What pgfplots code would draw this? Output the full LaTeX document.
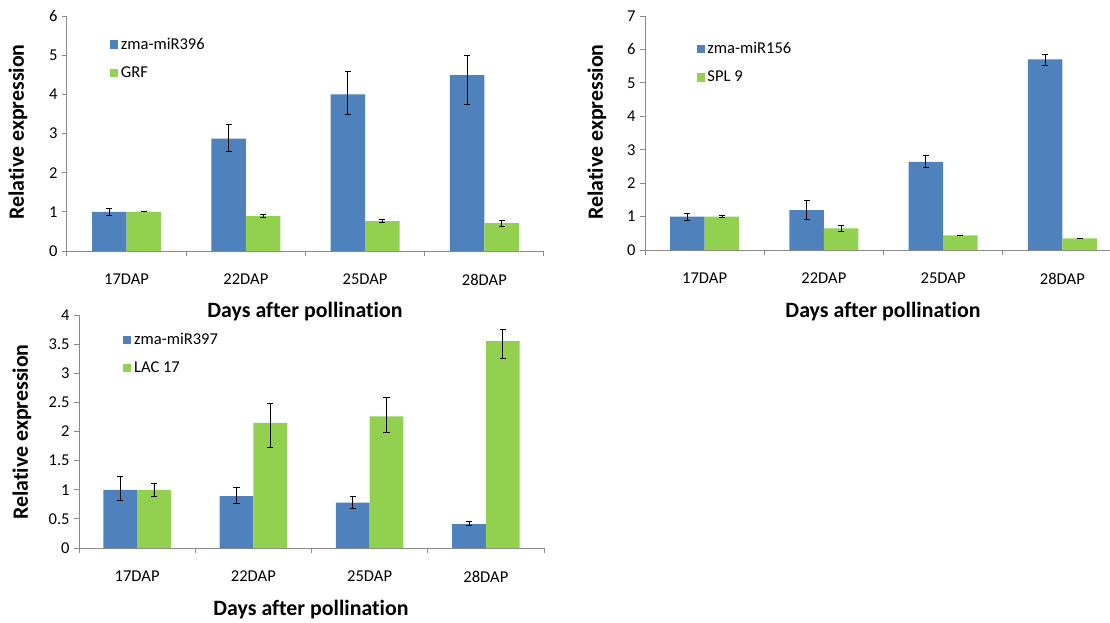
\documentclass[border=0pt]{standalone}
\usepackage{pgfplots}
\pgfplotsset{compat=1.18}
\usepackage{pgfplotstable}
\usepackage{fontspec}
\setmainfont{Carlito}[Ligatures={NoCommon}]
\definecolor{xblue}{HTML}{4F81BD}
\definecolor{xgreen}{HTML}{92D050}
\definecolor{axgray}{HTML}{8A8A8A}

\pgfplotstableread{
x b bp bm g gp gm
0 1.00 0.08 0.09 1.00 0.00 0.00
1 2.87 0.35 0.33 0.89 0.04 0.04
2 4.00 0.59 0.50 0.76 0.04 0.03
3 4.49 0.51 0.74 0.71 0.08 0.09
}\tA
\pgfplotstableread{
x b bp bm g gp gm
0 1.00 0.09 0.11 1.00 0.03 0.03
1 1.19 0.30 0.27 0.65 0.10 0.09
2 2.64 0.19 0.18 0.44 0.01 0.01
3 5.70 0.16 0.17 0.35 0.01 0.01
}\tB
\pgfplotstableread{
x b bp bm g gp gm
0 1.00 0.23 0.19 1.00 0.11 0.11
1 0.89 0.15 0.12 2.15 0.34 0.43
2 0.78 0.11 0.10 2.26 0.32 0.28
3 0.41 0.04 0.03 3.55 0.20 0.29
}\tC

\pgfplotsset{
  excel/.style={
    scale only axis, anchor=south west,
    ybar, bar width=0.29,
    xmin=-0.5, xmax=3.5, ymin=0,
    axis x line*=bottom, axis y line*=left,
    axis line style={axgray, line width=0.75pt},
    xtick={0,1,2,3}, xticklabels={17DAP,22DAP,25DAP,28DAP},
    minor xtick={-0.5,0.5,1.5,2.5,3.5},
    major x tick style={draw=none},
    minor x tick style={axgray, line width=0.75pt},
    ytick style={axgray, line width=0.75pt},
    tick align=outside, major tick length=3.5pt, minor tick length=3.5pt,
    ticklabel style={font=\fontsize{12.4}{14}\selectfont},
    /pgf/number format/assume math mode=true,
    xticklabel style={yshift=-10pt},
    legend style={draw=none, fill=none, font=\fontsize{12.4}{14}\selectfont,
      row sep=7.5pt, anchor=north west, inner sep=0pt},
    legend cell align=left,
    legend image code/.code={\fill[##1] (0pt,-3.2pt) rectangle (6pt,3.2pt);},
    clip=false,
  },
  bl/.style={fill=xblue, draw=none, bar shift=-0.145,
    error bars/.cd, y dir=both, y explicit,
    error bar style={black, line width=0.6pt},
    error mark options={black, rotate=90, mark size=2.3pt, line width=0.6pt}},
  gr/.style={fill=xgreen, draw=none, bar shift=0.145,
    error bars/.cd, y dir=both, y explicit,
    error bar style={black, line width=0.6pt},
    error mark options={black, rotate=90, mark size=2.3pt, line width=0.6pt}},
}

\begin{document}
\begin{tikzpicture}
\clip (0,0) rectangle (832.5pt,-466.5pt);

% Panel 1
\begin{axis}[excel, at={(50.25pt,-188.25pt)}, width=357.75pt, height=176.25pt,
  ymax=6, ytick={0,1,2,3,4,5,6},
  legend style={at={(0.09,0.92)}}]
\addplot[bl] table[x=x, y=b, y error plus=bp, y error minus=bm]{\tA};
\addplot[gr] table[x=x, y=g, y error plus=gp, y error minus=gm]{\tA};
\legend{zma-miR396, GRF}
\end{axis}

% Panel 2
\begin{axis}[excel, at={(483.75pt,-187.5pt)}, width=357.75pt, height=175.5pt,
  ymax=7, ytick={0,1,2,3,4,5,6,7},
  legend style={at={(0.108,0.9)}}]
\addplot[bl] table[x=x, y=b, y error plus=bp, y error minus=bm]{\tB};
\addplot[gr] table[x=x, y=g, y error plus=gp, y error minus=gm]{\tB};
\legend{zma-miR156, SPL 9}
\end{axis}

% Panel 3
\begin{axis}[excel, at={(59.25pt,-411pt)}, width=348.75pt, height=174.75pt,
  ymax=4, ytick={0,0.5,1,1.5,2,2.5,3,3.5,4},
  legend style={at={(0.095,0.935)}}]
\addplot[bl] table[x=x, y=b, y error plus=bp, y error minus=bm]{\tC};
\addplot[gr] table[x=x, y=g, y error plus=gp, y error minus=gm]{\tC};
\legend{zma-miR397, LAC 17}
\end{axis}

\begin{scope}[every node/.style={font=\bfseries\fontsize{16.4}{19}\selectfont}]
\node[rotate=90] at (13.5pt,-99pt) {Relative expression};
\node at (228.75pt,-234pt) {Days after pollination};
\node[rotate=90] at (447.75pt,-99pt) {Relative expression};
\node at (662.25pt,-234pt) {Days after pollination};
\node[rotate=90] at (16.5pt,-324pt) {Relative expression};
\node at (233.25pt,-457.5pt) {Days after pollination};
\end{scope}
\end{tikzpicture}
\end{document}
